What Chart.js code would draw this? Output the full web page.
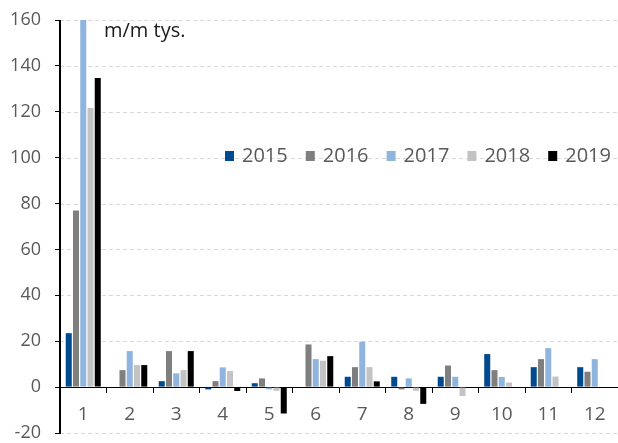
<!DOCTYPE html>
<html>
<head>
<meta charset="utf-8">
<script src="https://cdn.jsdelivr.net/npm/chart.js@4"></script>
<style>
  body { margin: 0; background: #fff; overflow: hidden; }
  #wrap { width: 618px; height: 443px; }
</style>
</head>
<body>
<div id="wrap"><canvas id="chart" width="618" height="443"></canvas></div>
<script>
const months = ['1', '2', '3', '4', '5', '6', '7', '8', '9', '10', '11', '12'];
const years = ['2015', '2016', '2017', '2018', '2019'];
const colors = ['#004a8f', '#7f7f7f', '#8fb4de', '#c3c3c3', '#000000'];

const y2015 = [23.5, 0, 2.6, -1, 1.7, 0, 4.5, 4.5, 4.5, 14.4, 8.7, 8.7];
const y2016 = [77, 7.4, 15.7, 2.6, 3.8, 18.6, 8.7, -1, 9.4, 7.4, 12.2, 6.7];
const y2017 = [160, 15.7, 6, 8.6, -1, 12.2, 19.8, 3.8, 4.5, 4.4, 17, 12.2];
const y2018 = [121.6, 9.6, 7.4, 7, -1.6, 11.5, 8.7, -1.6, -3.9, 2, 4.6, null];
const y2019 = [134.7, 9.6, 15.7, -1.7, -11.5, 13.5, 2.5, -7.3, null, null, null, null];

const unitLabel = 'm/m tys.';
const yMin = -20, yMax = 160, yStep = 20;

const series = [y2015, y2016, y2017, y2018, y2019];
const fontFamily = '"Open Sans", "Noto Sans", sans-serif';

// dashed grid lines, drawn before the axes so the zero line stays solid
const dashedGrid = {
  id: 'dashedGrid',
  beforeDraw(chart) {
    const ctx = chart.ctx;
    const area = chart.chartArea;
    const ys = chart.scales.y;
    ctx.save();
    ctx.strokeStyle = '#d9d9d9';
    ctx.lineWidth = 1;
    ctx.setLineDash([4, 3]);
    ys.ticks.forEach(t => {
      const py = Math.round(ys.getPixelForValue(t.value)) + 0.5;
      ctx.beginPath();
      ctx.moveTo(area.left, py);
      ctx.lineTo(area.right, py);
      ctx.stroke();
    });
    ctx.restore();
  }
};

// y axis line, legend and unit label on top
const innerLegend = {
  id: 'innerLegend',
  afterDraw(chart) {
    const ctx = chart.ctx;
    const area = chart.chartArea;
    ctx.save();
    ctx.fillStyle = '#000';
    ctx.fillRect(Math.round(area.left) - 1, Math.round(area.top), 2, Math.round(area.bottom - area.top) + 1);

    ctx.font = '20px ' + fontFamily;
    ctx.textBaseline = 'middle';
    chart.data.datasets.forEach((ds, i) => {
      const tx = 242 + i * 80.8;
      ctx.fillStyle = ds.backgroundColor;
      ctx.fillRect(tx - 17, 151, 9, 10);
      ctx.fillStyle = '#595959';
      ctx.fillText(ds.label, tx, 156);
    });
    ctx.fillStyle = '#1a1a1a';
    ctx.textBaseline = 'alphabetic';
    ctx.fillText(unitLabel, 104, 37);
    ctx.restore();
  }
};

const ctx = document.getElementById('chart').getContext('2d');
const chart = new Chart(ctx, {
  type: 'bar',
  data: {
    labels: months,
    datasets: years.map((y, i) => ({
      label: y,
      data: series[i],
      backgroundColor: colors[i],
      borderWidth: 0,
      categoryPercentage: 0.78,
      barPercentage: 0.83,
      clip: 0
    }))
  },
  options: {
    responsive: false,
    animation: false,
    layout: { padding: { top: 20, right: 0, bottom: 10, left: 0 } },
    plugins: {
      legend: { display: false },
      tooltip: { enabled: false }
    },
    scales: {
      x: {
        position: { y: 0 },
        afterFit(scale) { scale.paddingLeft = 0; scale.paddingRight = 0; },
        grid: {
          drawOnChartArea: false,
          tickLength: 5,
          tickColor: '#000',
          offset: true
        },
        border: { color: '#000', width: 1 },
        ticks: {
          color: '#595959',
          font: { family: fontFamily, size: 19 },
          padding: 11
        }
      },
      y: {
        min: yMin,
        max: yMax,
        afterFit(scale) {
          scale.width = 60;
          scale.paddingTop = 0;
          scale.paddingBottom = 0;
        },
        grid: {
          drawOnChartArea: false,
          tickColor: '#000',
          tickLength: 5
        },
        border: { display: true, color: '#000', width: 1 },
        ticks: {
          stepSize: yStep,
          color: '#595959',
          font: { family: fontFamily, size: 18 },
          padding: 14
        }
      }
    }
  },
  plugins: [dashedGrid, innerLegend]
});
</script>
</body>
</html>
